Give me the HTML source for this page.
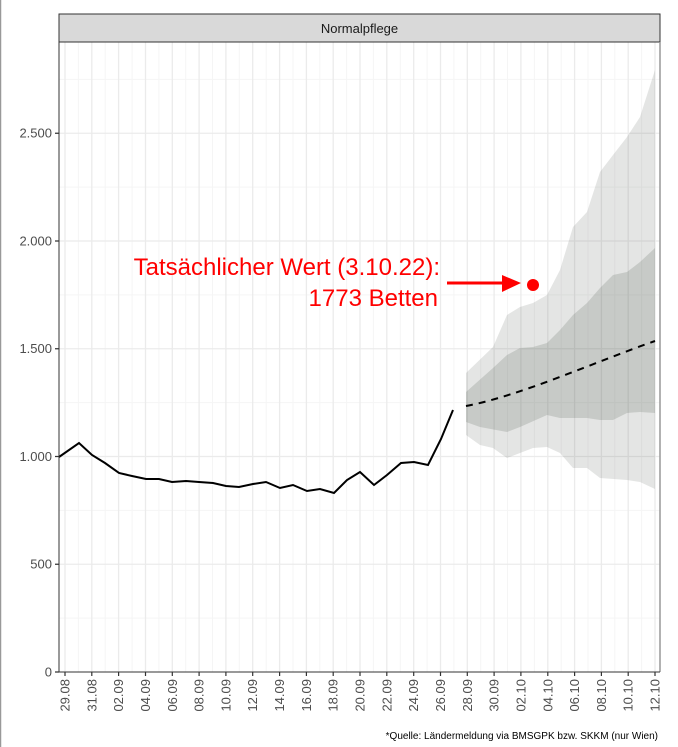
<!DOCTYPE html>
<html><head><meta charset="utf-8"><style>
html,body{margin:0;padding:0;background:#fff}
svg{display:block;font-family:"Liberation Sans",sans-serif}
</style></head><body>
<svg width="678" height="747" viewBox="0 0 678 747" xmlns="http://www.w3.org/2000/svg">
<line x1="0.5" y1="0" x2="0.5" y2="747" stroke="#999" stroke-width="1.5"/>
<rect x="59" y="42" width="601" height="630" fill="#fff"/>
<path fill="none" stroke="#f5f5f5" stroke-width="1" d="M59,618.1H660M59,510.4H660M59,402.6H660M59,294.9H660M59,187.1H660M59,79.4H660M78.4,42V672M105.2,42V672M132.1,42V672M158.9,42V672M185.7,42V672M212.5,42V672M239.3,42V672M266.2,42V672M293,42V672M319.8,42V672M346.6,42V672M373.4,42V672M400.3,42V672M427.1,42V672M453.9,42V672M480.7,42V672M507.5,42V672M534.4,42V672M561.2,42V672M588,42V672M614.8,42V672M641.6,42V672"/>
<path fill="none" stroke="#ebebeb" stroke-width="1.3" d="M59,564.25H660M59,456.5H660M59,348.75H660M59,241H660M59,133.25H660M65,42V672M91.8,42V672M118.6,42V672M145.5,42V672M172.3,42V672M199.1,42V672M225.9,42V672M252.7,42V672M279.6,42V672M306.4,42V672M333.2,42V672M360,42V672M386.8,42V672M413.7,42V672M440.5,42V672M467.3,42V672M494.1,42V672M520.9,42V672M547.8,42V672M574.6,42V672M601.4,42V672M628.2,42V672M655,42V672"/>
<polygon fill="#5f6360" fill-opacity="0.17" points="466,373 493,347 507,315 520,307 533,303 547,295 560,270 573,227 587,212 600,172 613,155 627,137 640,117 655,70 655,489 640,482 627,480 600,478 587,468 573,468 560,453 547,447 533,448 520,453 507,458 493,448 480,445 466,435"/>
<polygon fill="#3c4a3c" fill-opacity="0.17" points="466,392 493,368 507,355 520,348 533,347 547,343 560,330 573,315 587,303 600,288 613,275 627,272 640,262 655,248 655,413 640,412 627,413 613,420 600,420 587,418 560,418 547,415 520,427 507,432 480,427 466,422"/>
<polyline fill="none" stroke="#000" stroke-width="2" points="59,457 79,443 92,455 105,463 119,473 132,476 146,479 159,479 172,482 186,481 199,482 213,483 226,486 239,487 253,484 266,482 280,488 293,485 307,491 320,489 334,493 347,480 360,472 374,485 387,475 401,463 414,462 428,465 441,439 453,410"/>
<path d="M466,406 C520,396 600,360 655,341" fill="none" stroke="#000" stroke-width="2" stroke-dasharray="7,6"/>
<rect x="59" y="14" width="601" height="28" fill="#d9d9d9" stroke="#333" stroke-width="1"/>
<text x="359.5" y="33" font-size="13" text-anchor="middle" fill="#1a1a1a">Normalpflege</text>
<line x1="59" y1="42" x2="59" y2="672" stroke="#333" stroke-width="1"/>
<line x1="660" y1="42" x2="660" y2="672" stroke="#999" stroke-width="1.5"/>
<line x1="59" y1="672" x2="660" y2="672" stroke="#333" stroke-width="1"/>
<path stroke="#333" stroke-width="1.2" d="M55,672H59M55,564.25H59M55,456.5H59M55,348.75H59M55,241H59M55,133.25H59M65,672V676M91.8,672V676M118.6,672V676M145.5,672V676M172.3,672V676M199.1,672V676M225.9,672V676M252.7,672V676M279.6,672V676M306.4,672V676M333.2,672V676M360,672V676M386.8,672V676M413.7,672V676M440.5,672V676M467.3,672V676M494.1,672V676M520.9,672V676M547.8,672V676M574.6,672V676M601.4,672V676M628.2,672V676M655,672V676"/>
<g font-size="13" fill="#4d4d4d" text-anchor="end">
<text x="52" y="676.5">0</text>
<text x="52" y="568.7">500</text>
<text x="52" y="461">1.000</text>
<text x="52" y="353.2">1.500</text>
<text x="52" y="245.5">2.000</text>
<text x="52" y="137.7">2.500</text>
<text transform="translate(69.5,679) rotate(-90)">29.08</text>
<text transform="translate(96.3,679) rotate(-90)">31.08</text>
<text transform="translate(123.1,679) rotate(-90)">02.09</text>
<text transform="translate(150,679) rotate(-90)">04.09</text>
<text transform="translate(176.8,679) rotate(-90)">06.09</text>
<text transform="translate(203.6,679) rotate(-90)">08.09</text>
<text transform="translate(230.4,679) rotate(-90)">10.09</text>
<text transform="translate(257.2,679) rotate(-90)">12.09</text>
<text transform="translate(284.1,679) rotate(-90)">14.09</text>
<text transform="translate(310.9,679) rotate(-90)">16.09</text>
<text transform="translate(337.7,679) rotate(-90)">18.09</text>
<text transform="translate(364.5,679) rotate(-90)">20.09</text>
<text transform="translate(391.3,679) rotate(-90)">22.09</text>
<text transform="translate(418.2,679) rotate(-90)">24.09</text>
<text transform="translate(445,679) rotate(-90)">26.09</text>
<text transform="translate(471.8,679) rotate(-90)">28.09</text>
<text transform="translate(498.6,679) rotate(-90)">30.09</text>
<text transform="translate(525.4,679) rotate(-90)">02.10</text>
<text transform="translate(552.3,679) rotate(-90)">04.10</text>
<text transform="translate(579.1,679) rotate(-90)">06.10</text>
<text transform="translate(605.9,679) rotate(-90)">08.10</text>
<text transform="translate(632.7,679) rotate(-90)">10.10</text>
<text transform="translate(659.5,679) rotate(-90)">12.10</text>
</g>
<circle cx="533" cy="285" r="6" fill="#f00"/>
<line x1="447" y1="283" x2="505" y2="283" stroke="#f00" stroke-width="3"/>
<polygon points="502,275 521,283 502,292" fill="#f00"/>
<text x="440" y="275" font-size="24" text-anchor="end" fill="#f00">Tatsächlicher Wert (3.10.22):</text>
<text x="438" y="306" font-size="24" text-anchor="end" fill="#f00">1773 Betten</text>
<text x="658" y="739" font-size="10" text-anchor="end" fill="#000">*Quelle: Ländermeldung via BMSGPK bzw. SKKM (nur Wien)</text>
</svg>
</body></html>
